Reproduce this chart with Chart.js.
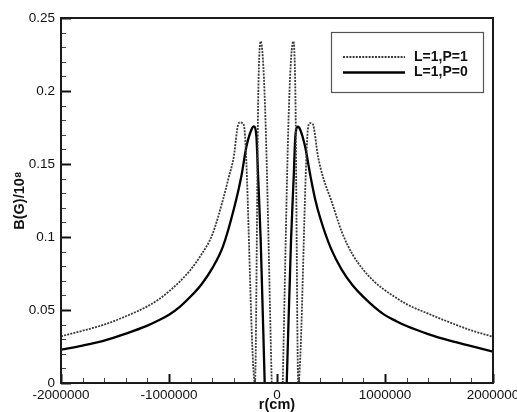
<!DOCTYPE html>
<html><head><meta charset="utf-8">
<script src="https://cdn.jsdelivr.net/npm/chart.js@4.4.1/dist/chart.umd.min.js"></script>
<style>html,body{margin:0;padding:0;background:#fff;}canvas{display:block;}</style>
</head><body>
<canvas id="c" width="517" height="412"></canvas>
<script>
const seriesLabels = ['L=1,P=1', 'L=1,P=0'];

// L=1,P=1 (dotted)
const rP1 = [-2000000,-1800000,-1600000,-1400000,-1200000,-1100000,-1000000,-900000,-800000,-700000,-600000,-500000,-450000,-400000,-360000,-340000,-320000,-302000,-204000,-173000,-151000,-111000,-49000,0,53000,111000,151000,170000,197000,287000,305000,330000,380000,430000,500000,600000,700000,800000,900000,1000000,1100000,1200000,1400000,1600000,1800000,2000000];
const bP1 = [0.032,0.0358,0.040,0.0457,0.0525,0.057,0.0628,0.0695,0.0776,0.088,0.1015,0.1256,0.140,0.155,0.177,0.1785,0.178,0.1745,0,0.199,0.234,0.19,0,null,0,0.19,0.234,0.199,0,0.1745,0.178,0.1775,0.155,0.14,0.1256,0.1035,0.088,0.0775,0.0695,0.0635,0.0585,0.054,0.0475,0.0415,0.036,0.0317];

// L=1,P=0 (solid)
const rP0 = [-2000000,-1800000,-1600000,-1400000,-1200000,-1100000,-1000000,-900000,-800000,-700000,-600000,-500000,-400000,-330000,-283000,-237000,-215000,-191000,-175000,-151000,-114000,0,90000,130000,155000,170000,194000,215000,260000,310000,355000,400000,500000,600000,700000,800000,900000,1000000,1100000,1200000,1400000,1600000,1800000,2000000];
const bP0 = [0.0228,0.0256,0.029,0.0338,0.0393,0.0428,0.0468,0.0522,0.0592,0.0675,0.0785,0.0936,0.119,0.1416,0.162,0.1735,0.1758,0.169,0.1416,0.098,0,null,0,0.098,0.1416,0.169,0.1755,0.1735,0.162,0.1416,0.1253,0.113,0.092,0.0775,0.067,0.059,0.0522,0.0465,0.0425,0.039,0.0335,0.029,0.0252,0.0214];

const xTicks = [-2000000,-1000000,0,1000000,2000000];
const xTickLabels = ['-2000000','-1000000','0','1000000','2000000'];
const yTicks = [0,0.05,0.1,0.15,0.2,0.25];
const yTickLabels = ['0','0.05','0.1','0.15','0.2','0.25'];
const xMinorStep = 200000;
const yMinorStep = 0.01;

const FONT = "'Liberation Sans', Arial, sans-serif";
Chart.defaults.font.family = FONT;
Chart.defaults.color = '#111';

const toPts = (rs, bs) => rs.map((r, i) => ({x: r, y: bs[i]}));

const frameTicks = {
  id: 'frameTicks',
  afterDatasetsDraw(chart) {
    const {ctx, chartArea: a, scales: {x, y}} = chart;
    ctx.save();
    const nx = Math.round((x.max - x.min) / xMinorStep);
    for (let i = 0; i <= nx; i++) {
      const v = x.min + i * xMinorStep;
      const major = xTicks.includes(v);
      const px = Math.round(x.getPixelForValue(v)) + 0.5;
      ctx.beginPath();
      ctx.lineWidth = major ? 2 : 1;
      ctx.strokeStyle = major ? '#111' : '#444';
      ctx.moveTo(px, a.bottom);
      ctx.lineTo(px, a.bottom - (major ? 9 : 5));
      ctx.stroke();
    }
    const ny = Math.round((y.max - y.min) / yMinorStep);
    for (let i = 0; i <= ny; i++) {
      const v = y.min + i * yMinorStep;
      const major = i % 5 === 0;
      const py = Math.round(y.getPixelForValue(v)) + 0.5;
      ctx.beginPath();
      ctx.lineWidth = major ? 2 : 1;
      ctx.strokeStyle = major ? '#111' : '#444';
      ctx.moveTo(a.left, py);
      ctx.lineTo(a.left + (major ? 10 : 5), py);
      ctx.stroke();
    }
    ctx.lineWidth = 2;
    ctx.strokeStyle = '#1a1a1a';
    ctx.strokeRect(a.left, a.top, a.right - a.left, a.bottom - a.top);
    ctx.restore();
  }
};

const boxLegend = {
  id: 'boxLegend',
  afterDraw(chart) {
    const {ctx} = chart;
    const bx = 331, by = 32, bw = 152, bh = 60;
    ctx.save();
    ctx.fillStyle = '#fff';
    ctx.fillRect(bx, by, bw, bh);
    ctx.lineWidth = 1.2;
    ctx.strokeStyle = '#555';
    ctx.strokeRect(bx + 0.5, by + 0.5, bw, bh);
    chart.data.datasets.forEach((ds, i) => {
      const ly = 57 + i * 15.5;
      ctx.beginPath();
      ctx.lineWidth = ds.borderWidth;
      ctx.strokeStyle = ds.borderColor;
      ctx.setLineDash(ds.borderDash || []);
      ctx.moveTo(343, ly);
      ctx.lineTo(405, ly);
      ctx.stroke();
      ctx.setLineDash([]);
      ctx.fillStyle = '#111';
      ctx.font = "bold 14px " + FONT;
      ctx.textBaseline = 'middle';
      ctx.textAlign = 'left';
      ctx.fillText(ds.label, 414, ly);
    });
    ctx.restore();
  }
};

new Chart(document.getElementById('c'), {
  type: 'line',
  data: {
    datasets: [
      {label: seriesLabels[0], data: toPts(rP1, bP1), borderColor: '#3a3a3a', borderWidth: 1.8, borderDash: [2, 1.2], pointRadius: 0, cubicInterpolationMode: 'monotone', spanGaps: false, fill: false},
      {label: seriesLabels[1], data: toPts(rP0, bP0), borderColor: '#000', borderWidth: 2.3, pointRadius: 0, cubicInterpolationMode: 'monotone', spanGaps: false, fill: false}
    ]
  },
  options: {
    responsive: false,
    animation: false,
    devicePixelRatio: 1,
    layout: {padding: {left: 0, right: 24, top: 18, bottom: 0}},
    plugins: {legend: {display: false}, tooltip: {enabled: false}},
    scales: {
      x: {
        type: 'linear', min: -2000000, max: 2000000,
        afterBuildTicks: s => { s.ticks = xTicks.map(v => ({value: v})); },
        afterFit: s => { s.height = 29; s.paddingLeft = 0; s.paddingRight = 0; },
        grid: {display: false, drawTicks: false}, border: {display: false},
        ticks: {padding: 4, maxRotation: 0, minRotation: 0, autoSkip: false, color: '#111', font: {size: 13.5}, callback: (v, i) => xTickLabels[i]},
        title: {display: true, text: 'r(cm)', color: '#111', font: {size: 14.5, weight: 'bold', lineHeight: 1}, padding: 0}
      },
      y: {
        type: 'linear', min: 0, max: 0.25,
        afterBuildTicks: s => { s.ticks = yTicks.map(v => ({value: v})); },
        afterFit: s => { s.width = 61; s.paddingTop = 0; s.paddingBottom = 0; },
        grid: {display: false, drawTicks: false}, border: {display: false},
        ticks: {padding: 6, autoSkip: false, color: '#111', font: {size: 13.5}, callback: (v, i) => yTickLabels[i]},
        title: {display: true, text: 'B(G)/10⁸', color: '#111', font: {size: 14.5, weight: 'bold', lineHeight: 1.2}, padding: {top: 11, bottom: 0}}
      }
    }
  },
  plugins: [frameTicks, boxLegend]
});
</script>
</body></html>
